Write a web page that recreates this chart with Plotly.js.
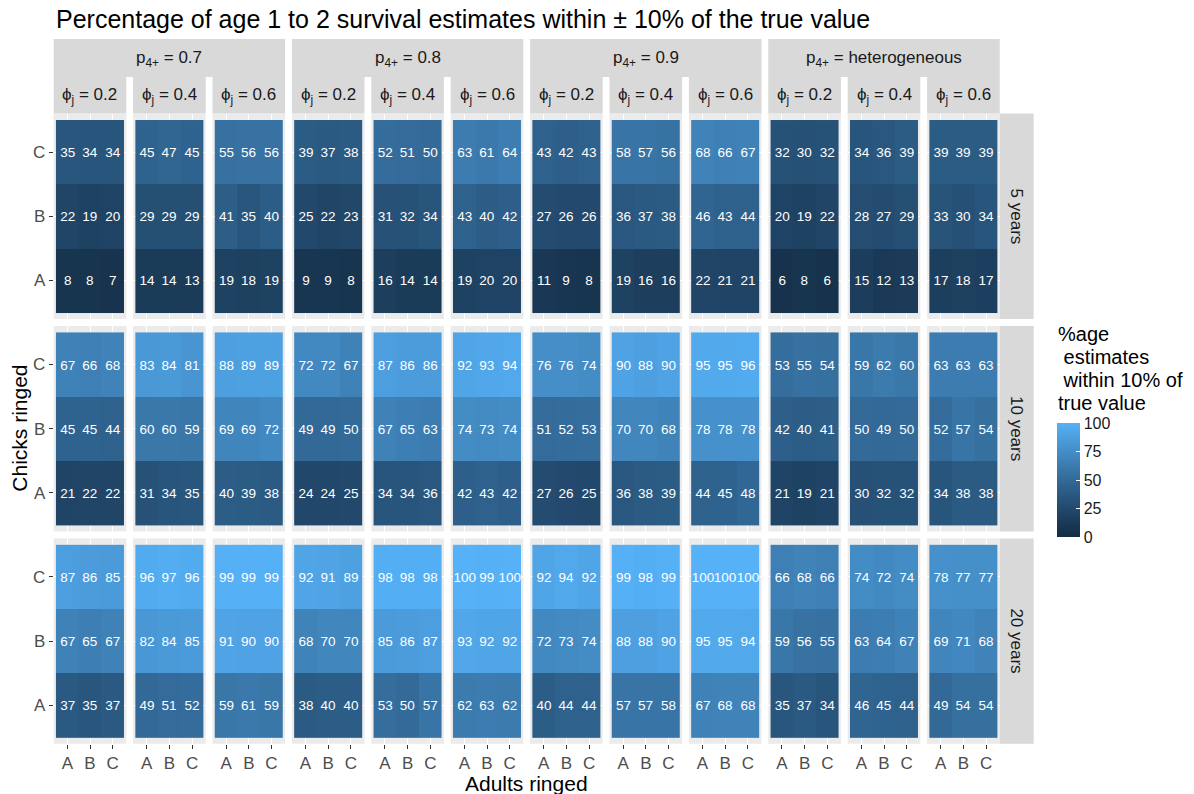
<!DOCTYPE html>
<html>
<head>
<meta charset="utf-8">
<script src="https://cdn.plot.ly/plotly-3.0.1.min.js"></script>
<style>html,body{margin:0;padding:0;background:#fff;}#chart{width:1194px;height:794px;}</style>
</head>
<body>
<div id="chart"></div>
<script>
// ---------- data ----------
const adultsRinged = ['A', 'B', 'C'];   // x categories
const chicksRinged = ['A', 'B', 'C'];   // y categories (bottom to top)
const pGroups = ['0.7', '0.8', '0.9', 'heterogeneous'];
const phiValues = ['0.2', '0.4', '0.6'];
const yearLabels = ['5 years', '10 years', '20 years'];
const legendTitle = ['%age', ' estimates', ' within 10% of', 'true value'];
const legendTicks = [0, 25, 50, 75, 100];

// each panel: rows = chicks ringed A, B, C ; columns = adults ringed A, B, C
// panel order: p0.7 (phi .2 .4 .6), p0.8 (...), p0.9 (...), heterogeneous (...)
const years5 = [
  [[8, 8, 7], [22, 19, 20], [35, 34, 34]],
  [[14, 14, 13], [29, 29, 29], [45, 47, 45]],
  [[19, 18, 19], [41, 35, 40], [55, 56, 56]],
  [[9, 9, 8], [25, 22, 23], [39, 37, 38]],
  [[16, 14, 14], [31, 32, 34], [52, 51, 50]],
  [[19, 20, 20], [43, 40, 42], [63, 61, 64]],
  [[11, 9, 8], [27, 26, 26], [43, 42, 43]],
  [[19, 16, 16], [36, 37, 38], [58, 57, 56]],
  [[22, 21, 21], [46, 43, 44], [68, 66, 67]],
  [[6, 8, 6], [20, 19, 22], [32, 30, 32]],
  [[15, 12, 13], [28, 27, 29], [34, 36, 39]],
  [[17, 18, 17], [33, 30, 34], [39, 39, 39]]
];
const years10 = [
  [[21, 22, 22], [45, 45, 44], [67, 66, 68]],
  [[31, 34, 35], [60, 60, 59], [83, 84, 81]],
  [[40, 39, 38], [69, 69, 72], [88, 89, 89]],
  [[24, 24, 25], [49, 49, 50], [72, 72, 67]],
  [[34, 34, 36], [67, 65, 63], [87, 86, 86]],
  [[42, 43, 42], [74, 73, 74], [92, 93, 94]],
  [[27, 26, 25], [51, 52, 53], [76, 76, 74]],
  [[36, 38, 39], [70, 70, 68], [90, 88, 90]],
  [[44, 45, 48], [78, 78, 78], [95, 95, 96]],
  [[21, 19, 21], [42, 40, 41], [53, 55, 54]],
  [[30, 32, 32], [50, 49, 50], [59, 62, 60]],
  [[34, 38, 38], [52, 57, 54], [63, 63, 63]]
];
const years20 = [
  [[37, 35, 37], [67, 65, 67], [87, 86, 85]],
  [[49, 51, 52], [82, 84, 85], [96, 97, 96]],
  [[59, 61, 59], [91, 90, 90], [99, 99, 99]],
  [[38, 40, 40], [68, 70, 70], [92, 91, 89]],
  [[53, 50, 57], [85, 86, 87], [98, 98, 98]],
  [[62, 63, 62], [93, 92, 92], [100, 99, 100]],
  [[40, 44, 44], [72, 73, 74], [92, 94, 92]],
  [[57, 57, 58], [88, 88, 90], [99, 98, 99]],
  [[67, 68, 68], [95, 95, 94], [100, 100, 100]],
  [[35, 37, 34], [59, 56, 55], [66, 68, 66]],
  [[46, 45, 44], [63, 64, 67], [74, 72, 74]],
  [[49, 54, 54], [69, 71, 68], [78, 77, 77]]
];
const yearData = [years5, years10, years20];

// ---------- colour scale (ggplot2 default gradient, Lab interpolation) ----------
const lowCol = '#132B43', highCol = '#56B1F7';
function hex2rgb(h){return [1,3,5].map(i=>parseInt(h.substr(i,2),16));}
function lin(c){c/=255;return c<=0.04045?c/12.92:Math.pow((c+0.055)/1.055,2.4);}
function unlin(c){c=c<=0.0031308?12.92*c:1.055*Math.pow(c,1/2.4)-0.055;return Math.max(0,Math.min(255,Math.round(c*255)));}
const WP=[0.95047,1,1.08883];
function rgb2lab(rgb){
  const [r,g,b]=rgb.map(lin);
  const X=r*0.4124564+g*0.3575761+b*0.1804375;
  const Y=r*0.2126729+g*0.7151522+b*0.0721750;
  const Z=r*0.0193339+g*0.1191920+b*0.9503041;
  const f=t=>t>0.008856?Math.cbrt(t):(7.787*t+16/116);
  const fx=f(X/WP[0]),fy=f(Y/WP[1]),fz=f(Z/WP[2]);
  return [116*fy-16,500*(fx-fy),200*(fy-fz)];
}
function lab2rgb(lab){
  const fy=(lab[0]+16)/116,fx=fy+lab[1]/500,fz=fy-lab[2]/200;
  const inv=t=>{const t3=t*t*t;return t3>0.008856?t3:(t-16/116)/7.787;};
  const X=inv(fx)*WP[0],Y=inv(fy)*WP[1],Z=inv(fz)*WP[2];
  const r=X*3.2404542+Y*-1.5371385+Z*-0.4985314;
  const g=X*-0.9692660+Y*1.8760108+Z*0.0415560;
  const b=X*0.0556434+Y*-0.2040259+Z*1.0572252;
  return [r,g,b].map(unlin);
}
const labLo=rgb2lab(hex2rgb(lowCol)), labHi=rgb2lab(hex2rgb(highCol));
const colorscale=[];
for(let i=0;i<=20;i++){
  const t=i/20;
  const lab=labLo.map((v,j)=>v+(labHi[j]-v)*t);
  const c=lab2rgb(lab);
  colorscale.push([t,'rgb('+c.join(',')+')']);
}

// ---------- geometry ----------
const W=1194,H=794;
const fx=x=>x/W, fy=y=>1-y/H;
const colPitch=79.4, colW=72.6, col0=53.7;
const rowPitch=212.4, rowH=205.4, row0=113.6;
const colLeft=c=>col0+colPitch*c;
const rowTop=r=>row0+rowPitch*r;
const FONT='"Liberation Sans", Arial, sans-serif';
const stripFill='#D9D9D9', stripText='#1A1A1A';

const traces=[];
const layout={
  width:W,height:H,
  margin:{l:0,r:0,t:0,b:0,pad:0},
  paper_bgcolor:'#FFFFFF',
  plot_bgcolor:'#EBEBEB',
  font:{family:FONT,color:'#1A1A1A'},
  showlegend:false,
  title:{text:'Percentage of age 1 to 2 survival estimates within ± 10% of the true value',
    x:fx(56),xanchor:'left',xref:'container',y:fy(19),yanchor:'middle',yref:'container',
    font:{family:FONT,size:25,color:'#000000'}},
  coloraxis:{cmin:0,cmax:100,colorscale:colorscale,
    colorbar:{x:fx(1057),xanchor:'left',y:fy(537),yanchor:'bottom',
      len:114,lenmode:'pixels',thickness:23,thicknessmode:'pixels',
      xpad:0,ypad:0,outlinewidth:0,
      tickvals:legendTicks,ticktext:legendTicks.map(String),
      ticks:'inside',ticklen:4,tickcolor:'#FFFFFF',tickwidth:1,
      ticklabelstandoff:6,
      tickfont:{family:FONT,size:16,color:'#1A1A1A'}}},
  shapes:[],annotations:[]
};

for(let r=0;r<3;r++){
  for(let c=0;c<12;c++){
    const k=r*12+c+1;
    const s=k===1?'':String(k);
    const x0=colLeft(c), x1=x0+colW, y0=rowTop(r), y1=y0+rowH;
    layout['xaxis'+s]={domain:[fx(x0),fx(x1)],anchor:'y'+s,type:'category',
      categoryorder:'array',categoryarray:adultsRinged,range:[-0.6,2.6],
      showgrid:true,gridcolor:'#FFFFFF',gridwidth:1,zeroline:false,showline:false,
      ticks:r===2?'outside':'',ticklen:4,tickwidth:1,tickcolor:'#333333',
      showticklabels:r===2,tickfont:{family:FONT,size:17,color:'#4D4D4D'},fixedrange:true};
    layout['yaxis'+s]={domain:[fy(y1),fy(y0)],anchor:'x'+s,type:'category',
      categoryorder:'array',categoryarray:chicksRinged,range:[-0.6,2.6],
      showgrid:true,gridcolor:'#FFFFFF',gridwidth:1,zeroline:false,showline:false,
      ticks:c===0?'outside':'',ticklen:4,tickwidth:1,tickcolor:'#333333',
      showticklabels:c===0,tickfont:{family:FONT,size:17,color:'#4D4D4D'},fixedrange:true};
    traces.push({type:'heatmap',x:adultsRinged,y:chicksRinged,z:yearData[r][c],
      coloraxis:'coloraxis',xaxis:'x'+s,yaxis:'y'+s,
      texttemplate:'%{z}',textfont:{family:FONT,size:13.5,color:'#FFFFFF'},
      hoverinfo:'x+y+z'});
  }
}

// top strips
for(let g=0;g<4;g++){
  const xa=colLeft(3*g), xb=colLeft(3*g+2)+colW;
  layout.shapes.push({type:'rect',xref:'paper',yref:'paper',x0:fx(xa),x1:fx(xb),y0:fy(77),y1:fy(39),
    fillcolor:stripFill,line:{width:0},layer:'below'});
  layout.annotations.push({xref:'paper',yref:'paper',x:fx((xa+xb)/2),y:fy(59),xanchor:'center',yanchor:'middle',
    text:'p<sub>4+</sub> = '+pGroups[g],showarrow:false,font:{family:FONT,size:17,color:stripText}});
  for(let j=0;j<3;j++){
    const c=3*g+j, x0=colLeft(c), x1=x0+colW;
    layout.shapes.push({type:'rect',xref:'paper',yref:'paper',x0:fx(x0),x1:fx(x1),y0:fy(row0),y1:fy(77),
      fillcolor:stripFill,line:{width:0},layer:'below'});
    layout.annotations.push({xref:'paper',yref:'paper',x:fx((x0+x1)/2),y:fy(96),xanchor:'center',yanchor:'middle',
      text:'ϕ<sub>j</sub> = '+phiValues[j],showarrow:false,font:{family:FONT,size:17,color:stripText}});
  }
}
// right strips
const sx0=colLeft(11)+colW, sx1=sx0+34;
for(let r=0;r<3;r++){
  const y0=rowTop(r), y1=y0+rowH;
  layout.shapes.push({type:'rect',xref:'paper',yref:'paper',x0:fx(sx0),x1:fx(sx1),y0:fy(y1),y1:fy(y0),
    fillcolor:stripFill,line:{width:0},layer:'below'});
  layout.annotations.push({xref:'paper',yref:'paper',x:fx((sx0+sx1)/2),y:fy((y0+y1)/2),xanchor:'center',yanchor:'middle',
    text:yearLabels[r],textangle:90,showarrow:false,font:{family:FONT,size:17,color:stripText}});
}
// axis titles
const gridL=col0, gridR=colLeft(11)+colW, gridT=row0, gridB=rowTop(2)+rowH;
layout.annotations.push({xref:'paper',yref:'paper',x:fx((gridL+gridR)/2),y:fy(783),xanchor:'center',yanchor:'middle',
  text:'Adults ringed',showarrow:false,font:{family:FONT,size:21,color:'#000000'}});
layout.annotations.push({xref:'paper',yref:'paper',x:fx(20),y:fy((gridT+gridB)/2),xanchor:'center',yanchor:'middle',
  text:'Chicks ringed',textangle:-90,showarrow:false,font:{family:FONT,size:21,color:'#000000'}});
// legend title (one line per annotation to match the tight line spacing)
const legendLineY=[334,357,380,403];
legendTitle.forEach((t,i)=>{
  layout.annotations.push({xref:'paper',yref:'paper',x:fx(1056),y:fy(legendLineY[i]),xanchor:'left',yanchor:'middle',align:'left',
    text:t.replace(/^ /,'\u00A0'),showarrow:false,font:{family:FONT,size:20,color:'#000000'}});
});

Plotly.newPlot('chart',traces,layout,{displayModeBar:false,staticPlot:true});
</script>
</body>
</html>
